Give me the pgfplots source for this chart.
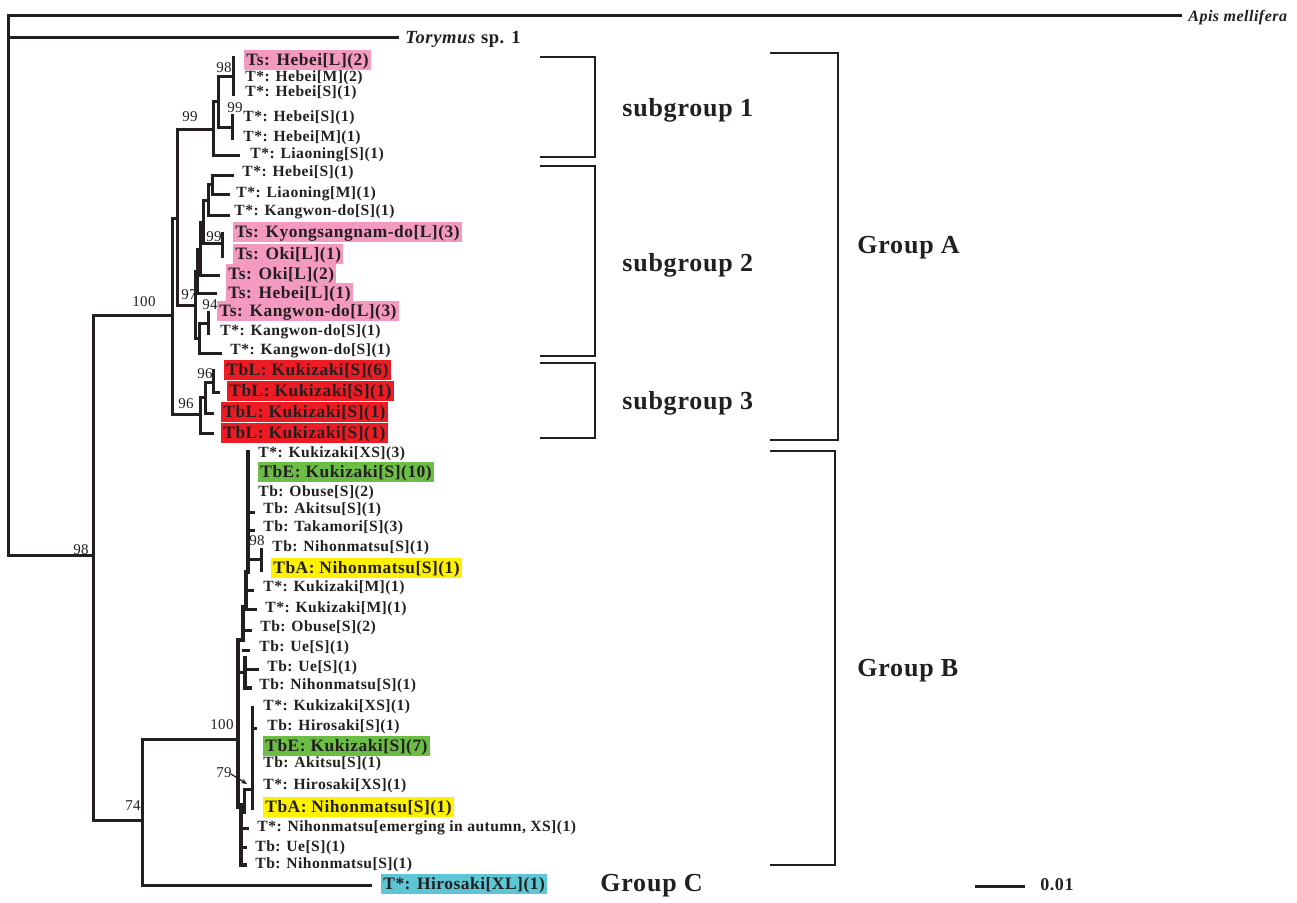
\documentclass[border=0pt]{standalone}
\usepackage{pgfplots}
\pgfplotsset{compat=1.18}
\usepackage{fontspec}
\setmainfont{Liberation Serif}[LetterSpace=3]
\usetikzlibrary{arrows.meta}
\definecolor{ink}{HTML}{231F20}
\definecolor{pinkc}{HTML}{F49AC1}
\definecolor{redc}{HTML}{ED1C24}
\definecolor{greenc}{HTML}{6CBD45}
\definecolor{yellowc}{HTML}{FFF200}
\definecolor{cyanc}{HTML}{5EC5D4}
\begin{document}
\begin{tikzpicture}[
  lab/.style={anchor=west, inner sep=0pt, font=\bfseries\fontsize{7.8}{9}\selectfont, text=ink, text height=6pt, text depth=2pt},
  hl/.style={anchor=west, inner xsep=1pt, inner ysep=0pt, font=\bfseries\fontsize{8.7}{10}\selectfont, text=ink, fill=#1, text height=7.5pt, text depth=2.5pt},
  boot/.style={inner sep=0pt, font=\fontsize{7.5}{8}\selectfont, text=ink},
  big/.style={anchor=west, inner sep=0pt, font=\bfseries\fontsize{13}{15}\selectfont, text=ink},
]
\begin{axis}[hide axis, scale only axis, width=648.5pt, height=451pt,
  xmin=0, xmax=1297, ymin=0, ymax=902, y dir=reverse, clip=false,
  tree/.style={no marks, line width=1.5pt, color=ink, line join=miter, line cap=rect},
  thick tree/.style={no marks, line width=2.2pt, color=ink, line join=miter, line cap=rect},
  brk/.style={no marks, line width=1.3pt, color=ink, line join=miter},
]
\path (rel axis cs:0,0) rectangle (rel axis cs:1,1);
% ---- root and outgroups
\addplot[tree] coordinates {(1180,15) (8,15) (8,555) (93,555)};
\addplot[tree] coordinates {(8,37) (397,37)};
\addplot[tree] coordinates {(172,315) (93,315) (93,820) (142,820)};
\addplot[tree] coordinates {(238,739) (142,739) (142,885) (370,885)};
% ---- group A
\addplot[tree] coordinates {(177,218) (172,218) (172,414) (200,414)};
\addplot[tree] coordinates {(213,129) (177,129) (177,305) (195,305)};
% subgroup 1
\addplot[tree] coordinates {(218,101) (213,101) (213,155) (238,155)};
\addplot[tree] coordinates {(233,76) (218,76) (218,127) (232,127)};
\addplot[tree] coordinates {(233,57) (233,94)};
\addplot[tree] coordinates {(232,115) (232,138)};
% subgroup 2
\addplot[tree] coordinates {(232,175) (212,175) (212,194) (228,194)};
\addplot[tree] coordinates {(212,184) (208,184) (208,215) (228,215)};
\addplot[tree] coordinates {(208,200) (203,200) (203,243) (222,243)};
\addplot[tree] coordinates {(222,233) (222,256)};
\addplot[tree] coordinates {(203,222) (200,222) (200,275) (218,275)};
\addplot[tree] coordinates {(200,249) (197,249) (197,293) (215,293)};
\addplot[tree] coordinates {(197,271) (195,271) (195,338) (199,338)};
\addplot[tree] coordinates {(208,323) (199,323) (199,353) (220,353)};
\addplot[tree] coordinates {(208,312) (208,333)};
% subgroup 3
\addplot[tree] coordinates {(205,397) (200,397) (200,433) (212,433)};
\addplot[tree] coordinates {(213,382) (205,382) (205,413) (212,413)};
\addplot[tree] coordinates {(213,370) (213,392) (218,392)};
% ---- group B
\addplot[thick tree] coordinates {(248,452) (248,572) (246,572) (246,607) (243,607) (243,640) (238,640) (238,807)};
\addplot[thick tree] coordinates {(241,805) (241,865) (245,865)};
\addplot[tree] coordinates {(248,512) (253,512)};
\addplot[tree] coordinates {(248,530) (253,530)};
\addplot[tree] coordinates {(248,559) (261,559)};
\addplot[tree] coordinates {(261,549) (261,570)};
\addplot[tree] coordinates {(246,590) (252,590)};
\addplot[tree] coordinates {(246,609) (255,609)};
\addplot[tree] coordinates {(243,630) (250,630)};
\addplot[tree] coordinates {(243,650) (248,650)};
\addplot[tree] coordinates {(238,672) (245,672)};
\addplot[thick tree] coordinates {(245,658) (245,688) (250,688)};
\addplot[tree] coordinates {(245,669) (257,669)};
\addplot[tree] coordinates {(252,707) (252,808)};
\addplot[tree] coordinates {(252,728) (255,728)};
\addplot[tree] coordinates {(252,789) (244,789) (244,812)};
\addplot[tree] coordinates {(241,828) (247,828)};
\addplot[tree] coordinates {(241,847) (245,847)};
\draw[ink, line width=0.6pt, -{Stealth[length=3pt,width=2.5pt]}] (axis cs:231,774) -- (axis cs:247,784);
% ---- brackets and scale bar
\addplot[brk] coordinates {(540,57) (595,57) (595,157) (540,157)};
\addplot[brk] coordinates {(540,166) (595,166) (595,356) (540,356)};
\addplot[brk] coordinates {(540,363) (595,363) (595,438) (540,438)};
\addplot[brk] coordinates {(770,53) (838,53) (838,440) (770,440)};
\addplot[brk] coordinates {(770,451) (835,451) (835,865) (770,865)};
\addplot[tree, line cap=butt] coordinates {(975,886) (1025,886)};
% ---- bootstrap values
\node[boot] at (axis cs:224,68) {98};
\node[boot] at (axis cs:235,108) {99};
\node[boot] at (axis cs:190,117) {99};
\node[boot] at (axis cs:144,302) {100};
\node[boot] at (axis cs:189,295) {97};
\node[boot] at (axis cs:214,237) {99};
\node[boot] at (axis cs:210,305) {94};
\node[boot] at (axis cs:205,374) {96};
\node[boot] at (axis cs:186,404) {96};
\node[boot] at (axis cs:81,550) {98};
\node[boot] at (axis cs:257,541) {98};
\node[boot] at (axis cs:222,725) {100};
\node[boot] at (axis cs:224,773) {79};
\node[boot] at (axis cs:133,806) {74};
% ---- outgroup labels
\node[lab, font=\bfseries\itshape\fontsize{8}{9}\selectfont] at (axis cs:1188,17) {Apis mellifera};
\node[lab, font=\bfseries\fontsize{9.3}{10}\selectfont] at (axis cs:405,39) {\textit{Torymus} sp. 1};
% ---- subgroup 1
\node[hl=pinkc] at (axis cs:244,60) {Ts: Hebei[L](2)};
\node[lab] at (axis cs:245,77) {T*: Hebei[M](2)};
\node[lab] at (axis cs:245,92) {T*: Hebei[S](1)};
\node[lab] at (axis cs:243,117) {T*: Hebei[S](1)};
\node[lab] at (axis cs:243,137) {T*: Hebei[M](1)};
\node[lab] at (axis cs:250,154) {T*: Liaoning[S](1)};
% ---- subgroup 2
\node[lab] at (axis cs:242,172) {T*: Hebei[S](1)};
\node[lab] at (axis cs:236,193) {T*: Liaoning[M](1)};
\node[lab] at (axis cs:234,211) {T*: Kangwon-do[S](1)};
\node[hl=pinkc] at (axis cs:233,232) {Ts: Kyongsangnam-do[L](3)};
\node[hl=pinkc] at (axis cs:233,254) {Ts: Oki[L](1)};
\node[hl=pinkc] at (axis cs:226,274) {Ts: Oki[L](2)};
\node[hl=pinkc] at (axis cs:226,293) {Ts: Hebei[L](1)};
\node[hl=pinkc] at (axis cs:217,311) {Ts: Kangwon-do[L](3)};
\node[lab] at (axis cs:220,331) {T*: Kangwon-do[S](1)};
\node[lab] at (axis cs:230,350) {T*: Kangwon-do[S](1)};
% ---- subgroup 3
\node[hl=redc] at (axis cs:224,370) {TbL: Kukizaki[S](6)};
\node[hl=redc] at (axis cs:227,391) {TbL: Kukizaki[S](1)};
\node[hl=redc] at (axis cs:221,412) {TbL: Kukizaki[S](1)};
\node[hl=redc] at (axis cs:221,433) {TbL: Kukizaki[S](1)};
% ---- group B
\node[lab] at (axis cs:258,453) {T*: Kukizaki[XS](3)};
\node[hl=greenc] at (axis cs:258,472) {TbE: Kukizaki[S](10)};
\node[lab] at (axis cs:258,492) {Tb: Obuse[S](2)};
\node[lab] at (axis cs:263,509) {Tb: Akitsu[S](1)};
\node[lab] at (axis cs:263,527) {Tb: Takamori[S](3)};
\node[lab] at (axis cs:272,547) {Tb: Nihonmatsu[S](1)};
\node[hl=yellowc] at (axis cs:271,568) {TbA: Nihonmatsu[S](1)};
\node[lab] at (axis cs:263,587) {T*: Kukizaki[M](1)};
\node[lab] at (axis cs:265,608) {T*: Kukizaki[M](1)};
\node[lab] at (axis cs:260,627) {Tb: Obuse[S](2)};
\node[lab] at (axis cs:259,647) {Tb: Ue[S](1)};
\node[lab] at (axis cs:267,667) {Tb: Ue[S](1)};
\node[lab] at (axis cs:259,685) {Tb: Nihonmatsu[S](1)};
\node[lab] at (axis cs:263,706) {T*: Kukizaki[XS](1)};
\node[lab] at (axis cs:267,726) {Tb: Hirosaki[S](1)};
\node[hl=greenc] at (axis cs:263,746) {TbE: Kukizaki[S](7)};
\node[lab] at (axis cs:263,763) {Tb: Akitsu[S](1)};
\node[lab] at (axis cs:263,785) {T*: Hirosaki[XS](1)};
\node[hl=yellowc] at (axis cs:263,807) {TbA: Nihonmatsu[S](1)};
\node[lab] at (axis cs:257,827) {T*: Nihonmatsu[emerging in autumn, XS](1)};
\node[lab] at (axis cs:255,847) {Tb: Ue[S](1)};
\node[lab] at (axis cs:255,864) {Tb: Nihonmatsu[S](1)};
% ---- group C
\node[hl=cyanc] at (axis cs:381,884) {T*: Hirosaki[XL](1)};
% ---- group names
\node[big] at (axis cs:622,110) {subgroup 1};
\node[big] at (axis cs:622,265) {subgroup 2};
\node[big] at (axis cs:622,403) {subgroup 3};
\node[big] at (axis cs:857,248) {Group A};
\node[big] at (axis cs:857,671) {Group B};
\node[big] at (axis cs:600,886) {Group C};
\node[lab, font=\bfseries\fontsize{9}{10}\selectfont] at (axis cs:1040,886) {0.01};
\end{axis}
\end{tikzpicture}
\end{document}
